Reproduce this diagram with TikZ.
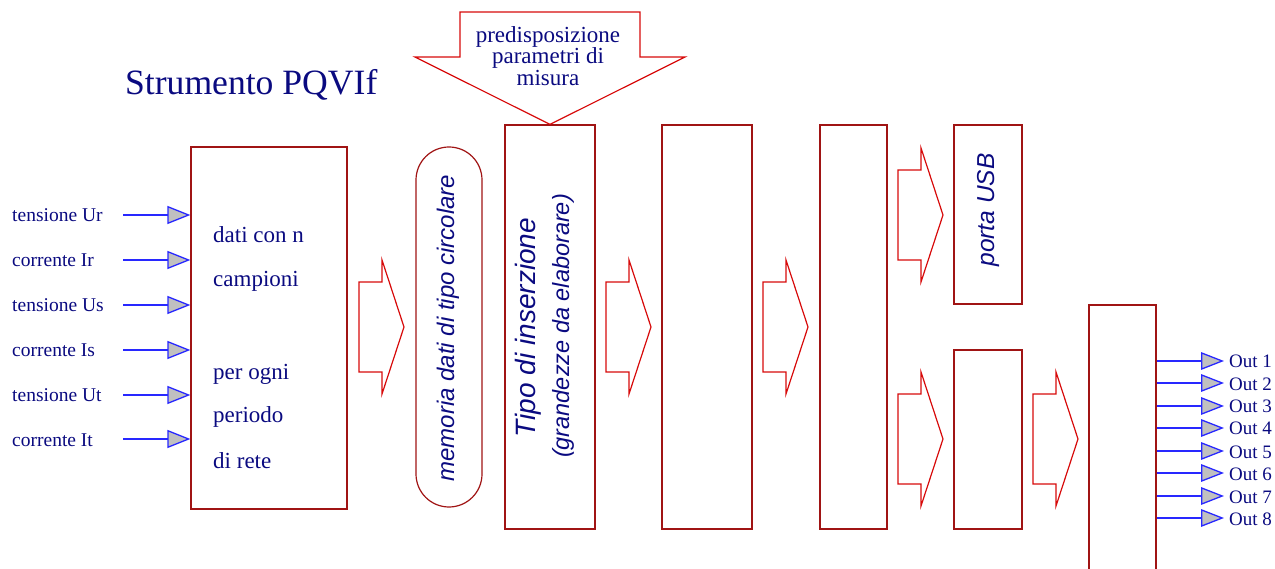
\documentclass[tikz,border=0pt]{standalone}
\usepackage{fontspec}
\setmainfont{Liberation Serif}
\newfontfamily\sansfam{Liberation Sans}
\usetikzlibrary{arrows.meta}

\definecolor{navy}{RGB}{10,10,128}
\definecolor{boxred}{RGB}{160,20,20}
\definecolor{arrowred}{RGB}{215,10,10}
\definecolor{inblue}{RGB}{40,40,255}
\definecolor{ingray}{RGB}{192,192,192}

\tikzset{
  blockbox/.style={draw=boxred, line width=1.2pt, inner sep=0pt},
  arrowline/.style={draw=arrowred, line width=1.2pt, line join=miter},
  fatarrow/.pic={\draw[arrowline] (0,-45) -- (23,-45) -- (23,-67) -- (45,0)
      -- (23,67) -- (23,45) -- (0,45) -- cycle;},
  sigline/.style={draw=inblue, line width=1.3pt,
      -{Triangle[length=23pt,width=18pt,fill=ingray]}},
  inlabel/.style={text=navy, anchor=base west, inner sep=0pt,
      font=\fontsize{19.5}{20}\selectfont},
  outlabel/.style={text=navy, anchor=base west, inner sep=0pt,
      font=\fontsize{19}{20}\selectfont},
  boxtext/.style={text=navy, anchor=base west, inner sep=0pt,
      font=\fontsize{23}{24}\selectfont},
  toptext/.style={text=navy, anchor=base, inner sep=0pt,
      font=\fontsize{23}{22}\selectfont},
  vsans/.style={text=navy, rotate=90, inner sep=0pt},
}

\begin{document}
\begin{tikzpicture}[x=1pt,y=-1pt]
\useasboundingbox (0,0) rectangle (1275,569);

% title
\node[text=navy, anchor=base west, inner sep=0pt,
      font=\fontsize{35.6}{38}\selectfont] (title) at (125,95) {Strumento PQVIf};

% processing blocks
\node[blockbox, minimum width=156pt, minimum height=362pt] (main) at (269,328) {};
\node[blockbox, minimum width=66pt, minimum height=360pt, rounded corners=33pt] (mem) at (449,327) {};
\node[blockbox, minimum width=90pt, minimum height=404pt] (tipo) at (550,327) {};
\node[blockbox, minimum width=90pt, minimum height=404pt] (blkc) at (707,327) {};
\node[blockbox, minimum width=67pt, minimum height=404pt] (blkd) at (853.5,327) {};
\node[blockbox, minimum width=68pt, minimum height=179pt] (usb) at (988,214.5) {};
\node[blockbox, minimum width=68pt, minimum height=179pt] (blke) at (988,439.5) {};
\node[blockbox, minimum width=67pt, minimum height=275pt] (outblk) at (1122.5,442.5) {};

% text of the acquisition block
\node[boxtext] (ta) at (213,243) {dati con n};
\node[boxtext] (tb) at (213,287) {campioni};
\node[boxtext] (tc) at (213,380) {per ogni};
\node[boxtext] (td) at (213,422) {periodo};
\node[boxtext] (te) at (213,468) {di rete};

% vertical labels
\node[vsans, font=\sansfam\itshape\fontsize{24}{26}\selectfont] (memtxt) at (448,328)
  {memoria dati di tipo circolare};
\node[vsans, font=\sansfam\itshape\fontsize{28}{30}\selectfont] (tipotxt) at (528,327.5)
  {Tipo di inserzione};
\node[vsans, font=\sansfam\itshape\fontsize{23.5}{25}\selectfont] (grtxt) at (563,326)
  {(grandezze da elaborare)};
\node[vsans, font=\sansfam\itshape\fontsize{24.5}{26}\selectfont] (usbtxt) at (988,210)
  {porta USB};

% wide arrows between blocks
\pic at (359,327) {fatarrow};
\pic at (606,327) {fatarrow};
\pic at (763,327) {fatarrow};
\pic at (898,215) {fatarrow};
\pic at (898,439) {fatarrow};
\pic at (1033,439) {fatarrow};

% parameter setting arrow
\draw[arrowline] (460,12) -- (640,12) -- (640,57) -- (685,57) -- (tipo.north)
  -- (415,57) -- (460,57) -- cycle;
\node[toptext] (p1) at (548,42.7) {predisposizione};
\node[toptext] (p2) at (548,64) {parametri di};
\node[toptext] (p3) at (548,85.3) {misura};

% measured inputs
\foreach \i/\y/\lab in {1/215/tensione Ur, 2/260/corrente Ir, 3/305/tensione Us,
                        4/350/corrente Is, 5/395/tensione Ut, 6/439/corrente It}{
  \coordinate (in\i) at (123,\y);
  \node[inlabel] (inlab\i) at (12,\y+7) {\lab};
  \draw[sigline] (in\i) -- (main.west |- in\i);
}

% outputs
\foreach \i/\yy in {1/361,2/383,3/406,4/428,5/451,6/473,7/496,8/518}{
  \coordinate (out\i) at (1224,\yy);
  \node[outlabel] (outlab\i) at (1229,\yy+7) {Out \i};
  \draw[sigline, -{Triangle[length=23pt,width=17.6pt,fill=ingray]}]
    (outblk.east |- out\i) -- (out\i);
}
\end{tikzpicture}
\end{document}
